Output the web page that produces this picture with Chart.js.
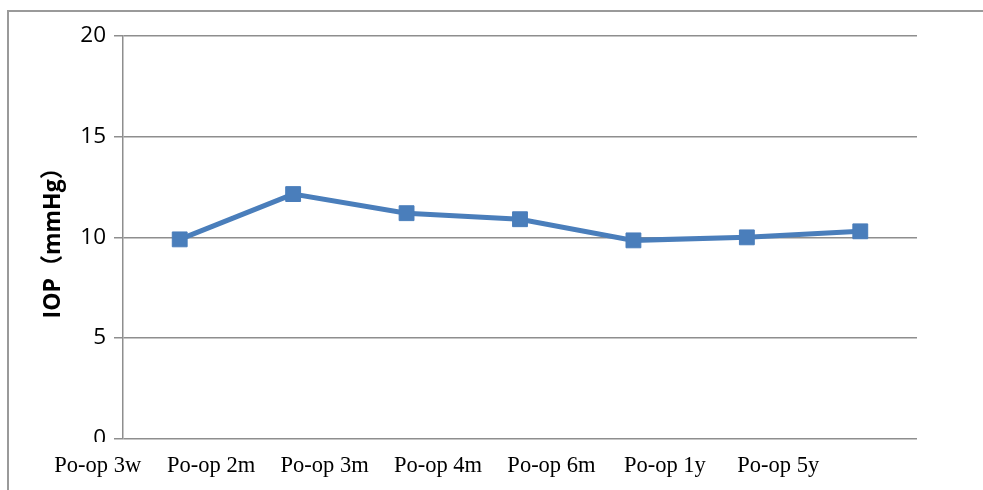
<!DOCTYPE html>
<html>
<head>
<meta charset="utf-8">
<script src="https://cdn.jsdelivr.net/npm/chart.js@4/dist/chart.umd.min.js"></script>
<style>
  html, body { margin: 0; padding: 0; background: #fff; }
  #wrap { position: relative; width: 983px; height: 490px; }
</style>
</head>
<body>
<div id="wrap"><canvas id="c" width="983" height="490"></canvas></div>
<script>
// Follow-up visits after surgery
const categories = ['Po-op 3w', 'Po-op 2m', 'Po-op 3m', 'Po-op 4m', 'Po-op 6m', 'Po-op 1y', 'Po-op 5y'];
// Mean intraocular pressure (mmHg) at each visit
const iopValues = [9.9, 12.15, 11.2, 10.9, 9.85, 10.0, 10.3];
// Y axis range and step
const yTicks = { min: 0, max: 20, step: 5 };
const yTitle = 'IOP（mmHg）';

const GRID = '#8e8e8e';
const LINE = '#4a7ebb';

// Outer frame (left and top edges) plus trimming of the lowest tick label
const framePlugin = {
  id: 'frame',
  afterDraw(chart) {
    const ctx = chart.ctx;
    ctx.save();
    ctx.fillStyle = '#fff';
    ctx.fillRect(60, 442, 56, 11);
    ctx.strokeStyle = '#9a9a9a';
    ctx.lineWidth = 2;
    ctx.beginPath();
    ctx.moveTo(8, 490);
    ctx.lineTo(8, 11);
    ctx.lineTo(990, 11);
    ctx.stroke();
    ctx.restore();
  }
};

new Chart(document.getElementById('c'), {
  type: 'line',
  data: {
    labels: categories,
    datasets: [{
      data: iopValues,
      borderColor: LINE,
      backgroundColor: LINE,
      borderWidth: 5,
      pointStyle: 'rect',
      pointRadius: 10.5,
      pointBorderWidth: 1,
      pointBackgroundColor: LINE,
      pointBorderColor: LINE,
      tension: 0,
      fill: false
    }]
  },
  options: {
    responsive: false,
    animation: false,
    devicePixelRatio: 1,
    layout: { padding: { left: 0, right: 66, top: 36, bottom: 0 } },
    plugins: {
      legend: { display: false },
      tooltip: { enabled: false }
    },
    scales: {
      x: {
        offset: true,
        grid: { display: false, drawTicks: false },
        border: { display: false },
        ticks: {
          color: '#000',
          font: { family: '"Liberation Serif", "Times New Roman", serif', size: 22.5 },
          labelOffset: -82,
          padding: 14,
          maxRotation: 0,
          autoSkip: false
        },
        afterFit(s) { s.height = 51.3; }
      },
      y: {
        min: yTicks.min,
        max: yTicks.max,
        ticks: {
          stepSize: yTicks.step,
          color: '#000',
          font: { family: '"Open Sans", "Liberation Sans", sans-serif', size: 22.5 },
          padding: 8
        },
        grid: {
          color: GRID,
          lineWidth: 1.5,
          tickLength: 9,
          tickColor: GRID,
          drawTicks: true
        },
        border: { display: true, color: GRID, width: 1.5 },
        title: {
          display: true,
          text: yTitle,
          color: '#000',
          font: { family: '"Open Sans", "Noto Sans CJK SC", sans-serif', size: 23, weight: 'bold' },
          padding: { top: 40, bottom: 0 }
        },
        afterFit(s) { s.width = 123; }
      }
    }
  },
  plugins: [framePlugin]
});
</script>
</body>
</html>
